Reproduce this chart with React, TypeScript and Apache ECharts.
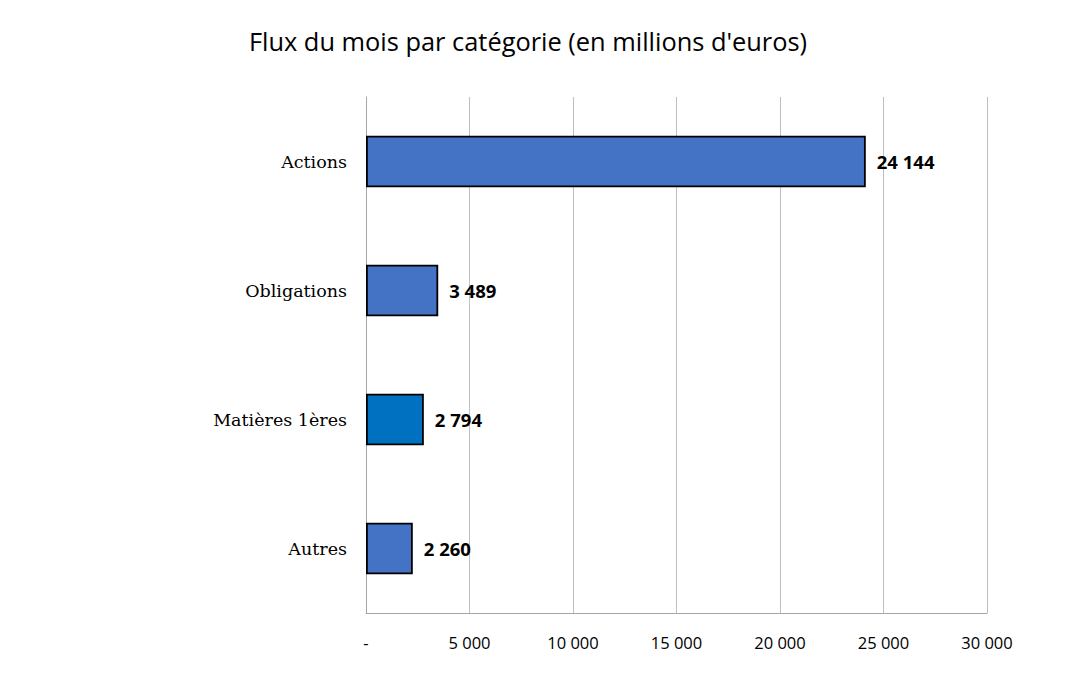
import React, { useEffect, useRef } from "react";
import * as echarts from "echarts";

const categories = ["Actions", "Obligations", "Matières 1ères", "Autres"];
const values = [24144, 3489, 2794, 2260];
const barColors = ["#4472C4", "#4472C4", "#0070C0", "#4472C4"];
const titleText = "Flux du mois par catégorie (en millions d'euros)";

const fmt = (v: number) => {
  if (v === 0) return "-";
  return String(Math.round(v)).replace(/\B(?=(\d{3})+(?!\d))/g, " ");
};

export default function App() {
  const ref = useRef<HTMLDivElement>(null);
  useEffect(() => {
    if (!ref.current) return;
    const chart = echarts.init(ref.current, null, { renderer: "svg" });
    chart.setOption({
      animation: false,
      backgroundColor: "#ffffff",
      title: {
        text: titleText,
        left: 523,
        top: 23,
        textAlign: "center",
        textStyle: { fontFamily: "Open Sans", fontSize: 25.4, fontWeight: "normal", color: "#000" },
      },
      grid: { left: 366, right: 82, top: 97, bottom: 75, containLabel: false },
      xAxis: {
        type: "value",
        min: 0,
        max: 30000,
        interval: 5000,
        axisLine: { show: true, lineStyle: { color: "#a6a6a6", width: 1 } },
        axisTick: { show: false },
        splitLine: { show: true, lineStyle: { color: "#bfbfbf", width: 1 } },
        axisLabel: {
          formatter: (v: number) => fmt(v),
          margin: 21,
          fontFamily: "Open Sans",
          fontSize: 16.5,
          color: "#000",
        },
      },
      yAxis: {
        type: "category",
        data: categories,
        inverse: true,
        axisLine: { show: true, lineStyle: { color: "#a6a6a6", width: 1 } },
        axisTick: { show: false },
        axisLabel: {
          margin: 19,
          fontFamily: "DejaVu Serif",
          fontSize: 17.5,
          color: "#000",
        },
      },
      series: [
        {
          type: "bar",
          barWidth: "40%",
          data: values.map((v, i) => ({
            value: v,
            itemStyle: { color: barColors[i], borderColor: "#000", borderWidth: 1.8 },
          })),
          label: {
            show: true,
            position: "right",
            distance: 11,
            formatter: (p: any) => fmt(p.value),
            fontFamily: "Open Sans",
            fontWeight: "bold",
            fontSize: 18.5,
            color: "#000",
          },
        },
      ],
    });
    return () => chart.dispose();
  }, []);
  return (
    <div
      ref={ref}
      style={{ position: "absolute", left: 0, top: 0, width: 1069, height: 688 }}
    />
  );
}
